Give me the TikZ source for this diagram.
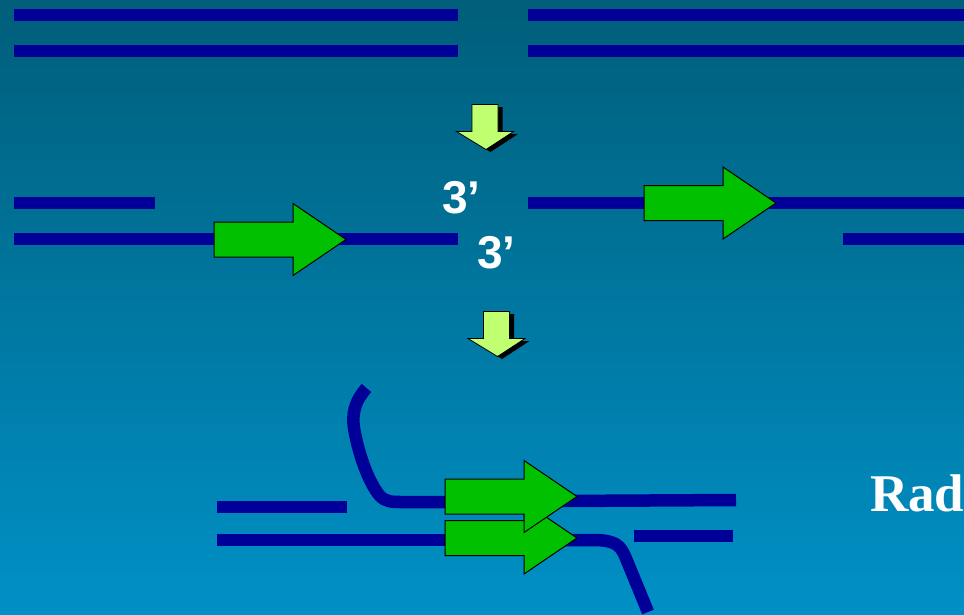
\documentclass[tikz,border=0pt]{standalone}
\usepackage{fontspec}
\setmainfont{Liberation Serif}
\setsansfont{Liberation Sans}
\definecolor{bgtop}{HTML}{005E7A}
\definecolor{bgbottom}{HTML}{0090C6}
\definecolor{strand}{HTML}{000099}
\definecolor{gene}{HTML}{00C000}
\definecolor{stepfill}{HTML}{C0FF70}
\tikzset{
  strandline/.style={strand,line width=12pt,line cap=butt},
  curved/.style={strand,line width=12.5pt,line join=round},
  genearrow/.style={draw=black,fill=gene,line width=1pt,line join=miter},
  stepface/.style={draw=black,fill=stepfill,line width=0.8pt},
  stepshadow/.style={fill=black},
  primelabel/.style={font=\sffamily\bfseries\fontsize{46}{46}\selectfont,text=white,inner sep=0pt},
  proteinlabel/.style={font=\bfseries\fontsize{53}{53}\selectfont,text=white,inner sep=0pt,anchor=base west},
}
% Block arrow pointing right, from its tail x and centre-line y
\newcommand{\genepath}[2]{%
  \draw[genearrow] (#1,#2-17.5) -- (#1+79,#2-17.5) -- (#1+79,#2-36) -- (#1+132,#2) -- (#1+79,#2+36) -- (#1+79,#2+17.5) -- (#1,#2+17.5) -- cycle;}
% Outline of the downward step arrow
\newcommand{\stepoutline}[2]{(#1-13,#2) -- (#1+13,#2) -- (#1+13,#2+27) -- (#1+28.5,#2+27) -- (#1+1,#2+45) -- (#1-28.5,#2+27) -- (#1-13,#2+27) -- cycle}
% Downward step arrow with a black drop shadow
\newcommand{\downstep}[2]{%
  \fill[stepshadow] \stepoutline{#1+4.5}{#2+2.5};
  \draw[stepface] \stepoutline{#1}{#2};}
\begin{document}
\begin{tikzpicture}[x=1pt,y=-1pt]
\useasboundingbox (0,0) rectangle (964,614);
\clip (0,0) rectangle (964,614);
\shade[top color=bgtop,bottom color=bgbottom] (0,0) rectangle (964,614);

% Intact duplex with the break position
\coordinate (a1) at (14,15); \coordinate (a2) at (458,15);
\coordinate (b1) at (528,15); \coordinate (b2) at (964,15);
\coordinate (c1) at (14,51); \coordinate (c2) at (458,51);
\coordinate (d1) at (528,51); \coordinate (d2) at (964,51);
\draw[strandline] (a1) -- (a2);
\draw[strandline] (b1) -- (b2);
\draw[strandline] (c1) -- (c2);
\draw[strandline] (d1) -- (d2);

\downstep{485}{104.5}

% Resected ends
\coordinate (e1) at (14,203); \coordinate (e2) at (155,203);
\coordinate (f1) at (14,239); \coordinate (f2) at (458,239);
\coordinate (g1) at (528,203); \coordinate (g2) at (964,203);
\coordinate (h1) at (843,239); \coordinate (h2) at (964,239);
\draw[strandline] (e1) -- (e2);
\draw[strandline] (f1) -- (f2);
\draw[strandline] (g1) -- (g2);
\draw[strandline] (h1) -- (h2);
\genepath{214}{239.5}
\genepath{644}{203}
\node[primelabel] (pa) at (461.5,198) {3’};
\node[primelabel] (pb) at (496.5,253) {3’};

\downstep{496.5}{311.5}

% Strand invasion
\coordinate (i1) at (217,507); \coordinate (i2) at (347,507);
\coordinate (j1) at (217,540); \coordinate (j2) at (460,540);
\coordinate (k1) at (634,536); \coordinate (k2) at (733,536);
\draw[strandline] (i1) -- (i2);
\draw[strandline] (j1) -- (j2);
\draw[strandline] (k1) -- (k2);
\draw[curved] (366.5,388) .. controls (354,402) and (352,415) .. (354,428)
  .. controls (358,452) and (368,482) .. (380,496) .. controls (386,502) and (392,502) .. (403,502)
  -- (460,502);
\draw[curved] (560,501) -- (736,500);
\draw[curved] (565,540) -- (597,540) .. controls (615,541) and (620,545) .. (625,556) -- (648,612);
\genepath{445}{538}
\genepath{445}{496.5}

\node[proteinlabel] (rad) at (870,511) {Rad51};
\end{tikzpicture}
\end{document}
